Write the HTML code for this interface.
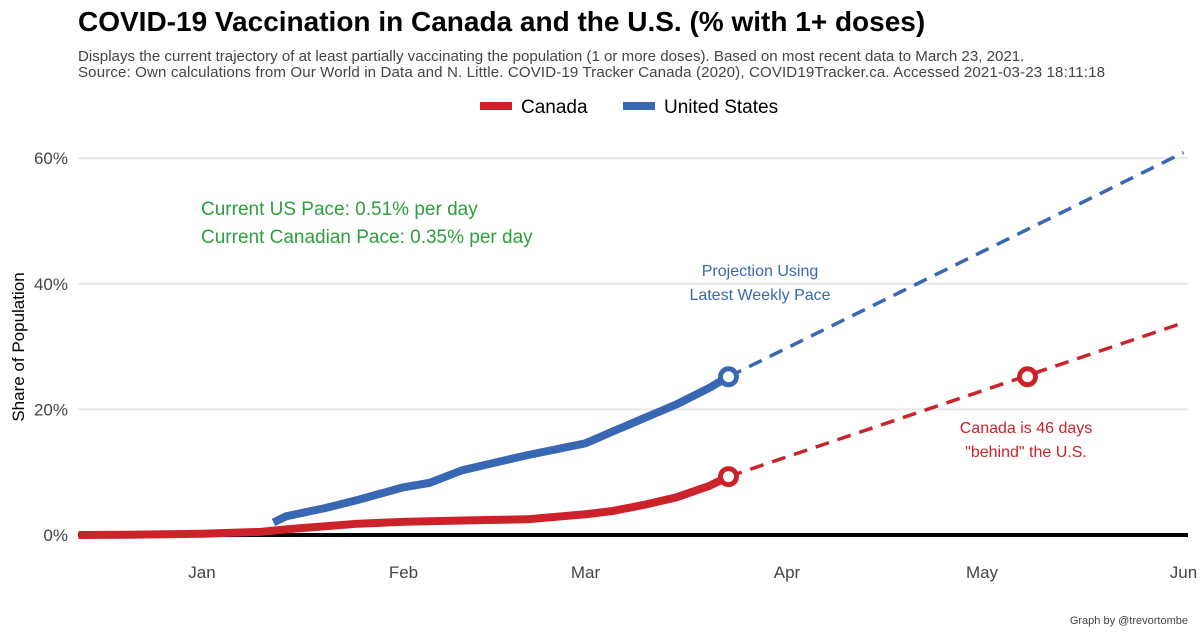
<!DOCTYPE html>
<html><head><meta charset="utf-8"><style>
body{margin:0;background:#fff;font-family:"Liberation Sans",sans-serif}
</style></head><body>
<svg width="1200" height="635" viewBox="0 0 1200 635" xmlns="http://www.w3.org/2000/svg" font-family="Liberation Sans, sans-serif">
<text x="78" y="31" font-size="28" font-weight="bold" fill="#000">COVID-19 Vaccination in Canada and the U.S. (% with 1+ doses)</text>
<text x="78" y="61" font-size="15.1" fill="#444">Displays the current trajectory of at least partially vaccinating the population (1 or more doses). Based on most recent data to March 23, 2021.</text>
<text x="78" y="77" font-size="15.1" fill="#444" textLength="1027">Source: Own calculations from Our World in Data and N. Little. COVID-19 Tracker Canada (2020), COVID19Tracker.ca. Accessed 2021-03-23 18:11:18</text>
<g>
<g><rect x="480" y="102" width="32" height="8" fill="#CC2229"/><text x="521" y="113" font-size="19">Canada</text></g>
<g><rect x="623" y="102" width="32" height="8" fill="#3867B4"/><text x="664" y="113" font-size="19">United States</text></g>
</g>
<text transform="translate(24,347) rotate(-90)" text-anchor="middle" font-size="17">Share of Population</text>
<g id="grid"></g><g id="series"></g>
<text x="201" y="215" font-size="19" fill="#2E9E3E">Current US Pace: 0.51% per day</text>
<text x="201" y="243" font-size="19" fill="#2E9E3E">Current Canadian Pace: 0.35% per day</text>
<text x="760" y="276" font-size="16" fill="#3867B4" text-anchor="middle">Projection Using</text>
<text x="760" y="300" font-size="16" fill="#3867B4" text-anchor="middle">Latest Weekly Pace</text>
<text x="1026" y="433" font-size="16" fill="#CC2229" text-anchor="middle">Canada is 46 days</text>
<text x="1026" y="457" font-size="16" fill="#CC2229" text-anchor="middle">"behind" the U.S.</text>
<text x="1188" y="624" font-size="11" fill="#444" text-anchor="end">Graph by @trevortombe</text>
</svg>
<script>
// days relative to Jan 1, 2021
const yTicks=[0,20,40,60];
const monthLabels=["Jan","Feb","Mar","Apr","May","Jun"];
const monthDays=[0,31,59,90,120,151];
const caDays=[-19,-10,0,9,14,24,31,40,50,59,63,68,73,78,81];
const caVals=[0,0.05,0.2,0.5,1.0,1.8,2.1,2.3,2.5,3.3,3.8,4.8,6.0,7.8,9.3];
const usDays=[11,13,19,24,31,35,40,45,50,59,63,68,73,78,81];
const usVals=[2.0,3.0,4.3,5.6,7.6,8.3,10.3,11.5,12.7,14.6,16.4,18.6,20.8,23.4,25.2];
const usPace=0.51, caPace=0.35, projEnd=151, caMatchDay=127;
const NS="http://www.w3.org/2000/svg";
const x=d=>202+d*6.5, y=v=>535-v*6.28;
function mk(t,a,p){const e=document.createElementNS(NS,t);for(const k in a)e.setAttribute(k,a[k]);p.appendChild(e);return e;}
const g=document.getElementById('grid'), s=document.getElementById('series');
yTicks.forEach(v=>{
 const l=mk('line',{x1:78,x2:1188,y1:y(v),y2:y(v),stroke:'#e6e6e6','stroke-width':2},g);
 
 
 const t=mk('text',{x:68,y:y(v)+6,'text-anchor':'end','font-size':17,fill:'#444'},g);t.textContent=v+'%';
 
 
});
monthLabels.forEach((m,i)=>{
 const t=mk('text',{x:x(monthDays[i]),y:578,'text-anchor':'middle','font-size':17,fill:'#444'},g);t.textContent=m;
 
 
});
const zl=mk('line',{x1:78,x2:1188,y1:y(0),y2:y(0),stroke:'#000','stroke-width':4},g);


function line(ds,vs,col,name){
 const p=mk('polyline',{points:ds.map((d,i)=>x(d)+','+y(vs[i])).join(' '),fill:'none',stroke:col,'stroke-width':8,'stroke-linejoin':'round'},s);
 
 
}
function proj(d0,v0,pace,col,name){
 const p=mk('line',{x1:x(d0),y1:y(v0),x2:x(projEnd),y2:y(v0+pace*(projEnd-d0)),stroke:col,'stroke-width':3.5,'stroke-dasharray':'14,9'},s);
 
 
}
function dot(d,v,col,name){
 const c=mk('circle',{cx:x(d),cy:y(v),r:8,fill:'#fff',stroke:col,'stroke-width':5},s);
 
 
}
const ce=caDays.length-1, ue=usDays.length-1;
proj(caDays[ce],caVals[ce],caPace,'#CC2229','canada-projection');
proj(usDays[ue],usVals[ue],usPace,'#3867B4','us-projection');
line(usDays,usVals,'#3867B4','us-line');
line(caDays,caVals,'#CC2229','canada-line');
dot(usDays[ue],usVals[ue],'#3867B4','us-latest-point');
dot(caDays[ce],caVals[ce],'#CC2229','canada-latest-point');
dot(caMatchDay,usVals[ue],'#CC2229','canada-match-point');
</script>
</body></html>
